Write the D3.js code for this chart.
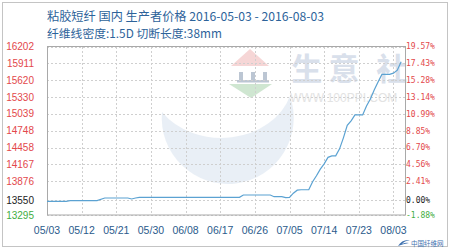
<!DOCTYPE html>
<html>
<head>
<meta charset="utf-8">
<script src="https://cdn.jsdelivr.net/npm/d3@7"></script>
<style>
  html, body { margin: 0; padding: 0; background: #fff; }
  svg { display: block; }
</style>
</head>
<body>
<div id="chart"></div>
<script>
// price ticks (left axis) and matching percent labels (right axis)
const priceTicks = [16202, 15911, 15620, 15330, 15039, 14748, 14458, 14167, 13876, 13550, 13295];
const pctLabels = ["19.57%", "17.43%", "15.28%", "13.14%", "10.99%", "8.85%", "6.70%", "4.56%", "2.41%", "0.00%", "-1.88%"];
const basePrice = 13550;

// x axis: day offset from 2016-05-03 and the label shown there
const dateTicks = [0, 9, 18, 27, 36, 45, 54, 63, 72, 81, 90];
const dateLabels = ["05/03", "05/12", "05/21", "05/30", "06/08", "06/17", "06/26", "07/05", "07/14", "07/23", "08/03"];

// series (day offset, price)
const days   = [0, 5, 6, 13, 15, 21, 22, 23, 24, 50, 51, 58, 59, 61, 62, 63, 64, 65, 66, 68, 69, 70, 71, 72, 73, 74, 75, 76, 77, 78, 79, 80, 82, 83, 84, 85, 86, 87, 89, 90, 91, 92];
const prices = [13530, 13530, 13542, 13542, 13588, 13588, 13571, 13588, 13599, 13599, 13640, 13640, 13611, 13611, 13594, 13599, 13671, 13723, 13731, 13731, 13869, 13972, 14087, 14178, 14290, 14316, 14316, 14436, 14626, 14841, 14918, 15021, 15021, 15176, 15296, 15451, 15589, 15721, 15721, 15743, 15794, 15938];

const W = 450, H = 249;
const plot = { left: 47, right: 405, top: 46.5, bottom: 215 };

const svg = d3.select("#chart").append("svg")
    .attr("width", W)
    .attr("height", H);

// outer frame
svg.append("rect")
    .attr("x", 2.5).attr("y", 2.5)
    .attr("width", W - 5).attr("height", H - 5)
    .attr("fill", "#fff")
    .attr("stroke", "#c4c4c4");

// title
const cjk = "'Noto Sans CJK SC', 'Noto Sans', sans-serif";
svg.append("text")
    .attr("x", 47).attr("y", 20.5)
    .attr("font-family", cjk).attr("font-size", 12.2)
    .attr("fill", "#2d639a")
    .text("粘胶短纤 国内 生产者价格 2016-05-03 - 2016-08-03");
svg.append("text")
    .attr("x", 47).attr("y", 37.5)
    .attr("font-family", cjk).attr("font-size", 11.8)
    .attr("fill", "#2d639a")
    .text("纤维线密度:1.5D 切断长度:38mm");

const x = d3.scaleLinear().domain([0, 93]).range([plot.left, plot.right]);
const y = d3.scaleLinear().domain([13295, 16202]).range([plot.bottom, plot.top]);

// watermark (faint logo + text)
const wm = svg.append("g").attr("class", "watermark");
wm.append("path")
    .attr("d", "M290,96 A66,66 0 1,1 162,112 A72,60 0 0,0 290,96 Z")
    .attr("fill", "#d3e0ee").attr("opacity", 0.5);
wm.append("polygon")
    .attr("points", "231,66 250,49 269,66")
    .attr("fill", "#f4cccc").attr("opacity", 0.8);
[[239, 72, 4, 10], [251, 72, 4, 10], [263, 72, 4, 10], [237, 80, 32, 2.5]].forEach(b => {
    wm.append("rect")
        .attr("x", b[0]).attr("y", b[1]).attr("width", b[2]).attr("height", b[3])
        .attr("fill", "#bcc6d3");
});
wm.append("polygon")
    .attr("points", "229,84 272,84 251,98")
    .attr("fill", "#c3e0c6").attr("opacity", 0.8);
[["生", 306.7], ["意", 344], ["社", 391.7]].forEach(c => {
    wm.append("text")
        .attr("x", c[1]).attr("y", 66)
        .attr("text-anchor", "middle").attr("dominant-baseline", "central")
        .attr("font-family", cjk).attr("font-size", 31).attr("font-weight", "bold")
        .attr("fill", "#d9e0eb")
        .text(c[0]);
});
wm.append("text")
    .attr("x", 290).attr("y", 101.5)
    .attr("font-family", "'Liberation Sans', Arial, sans-serif").attr("font-size", 12)
    .attr("fill", "#e3e3e3")
    .text("WWW.100PPI.COM");

// grid
const grid = svg.append("g").attr("class", "grid")
    .attr("stroke", "#cfcfcf").attr("stroke-dasharray", "2,2").attr("shape-rendering", "crispEdges");
grid.selectAll("line.h")
    .data(priceTicks)
    .join("line").attr("class", "h")
    .attr("x1", plot.left).attr("x2", plot.right)
    .attr("y1", d => Math.round(y(d)) + 0.5).attr("y2", d => Math.round(y(d)) + 0.5);
grid.selectAll("line.v")
    .data(dateTicks.slice(1))
    .join("line").attr("class", "v")
    .attr("x1", d => Math.round(x(d)) + 0.5).attr("x2", d => Math.round(x(d)) + 0.5)
    .attr("y1", plot.top).attr("y2", plot.bottom);

// plot frame
svg.append("rect")
    .attr("x", plot.left + 0.5).attr("y", plot.top)
    .attr("width", plot.right - plot.left).attr("height", plot.bottom - plot.top)
    .attr("fill", "none").attr("stroke", "#a9a9a9");

// left axis labels
const labelFont = "'Liberation Sans', Arial, sans-serif";
const tickColor = v => v > basePrice ? "#e3484b" : (v === basePrice ? "#222" : "#3fae3f");
svg.append("g").selectAll("text")
    .data(priceTicks)
    .join("text")
    .attr("x", 34).attr("y", d => y(d))
    .attr("dy", "0.35em").attr("text-anchor", "end")
    .attr("font-family", labelFont).attr("font-size", 10)
    .attr("fill", tickColor)
    .text(d => d);

// right axis labels
svg.append("g").selectAll("text")
    .data(priceTicks)
    .join("text")
    .attr("x", 406).attr("y", d => y(d))
    .attr("dy", "0.35em")
    .attr("font-family", "'DejaVu Sans Mono', monospace").attr("font-size", 8)
    .attr("fill", tickColor)
    .text((d, i) => pctLabels[i]);

// x axis labels
svg.append("g").selectAll("text")
    .data(dateTicks)
    .join("text")
    .attr("x", d => x(d)).attr("y", 230)
    .attr("dy", "0.35em").attr("text-anchor", "middle")
    .attr("font-family", labelFont).attr("font-size", 10.5)
    .attr("fill", "#2b5b8c")
    .text((d, i) => dateLabels[i]);

// price line
const series = days.map((d, i) => ({ day: d, price: prices[i] }));
svg.append("path")
    .datum(series)
    .attr("fill", "none")
    .attr("stroke", "#5ba2d2")
    .attr("stroke-width", 1.2)
    .attr("d", d3.line().x(d => x(d.day)).y(d => y(d.price)));

// small source logo bottom right
svg.append("path")
    .attr("d", "M398,246 q4,-7 12,-6 q-6,1 -8,4 q4,-2 7,-1 q-6,1 -11,3 Z")
    .attr("fill", "#3f72b0");
svg.append("text")
    .attr("x", 411).attr("y", 246)
    .attr("font-family", cjk).attr("font-size", 6.5)
    .attr("fill", "#3f72b0")
    .text("中国纤维网");
</script>
</body>
</html>
